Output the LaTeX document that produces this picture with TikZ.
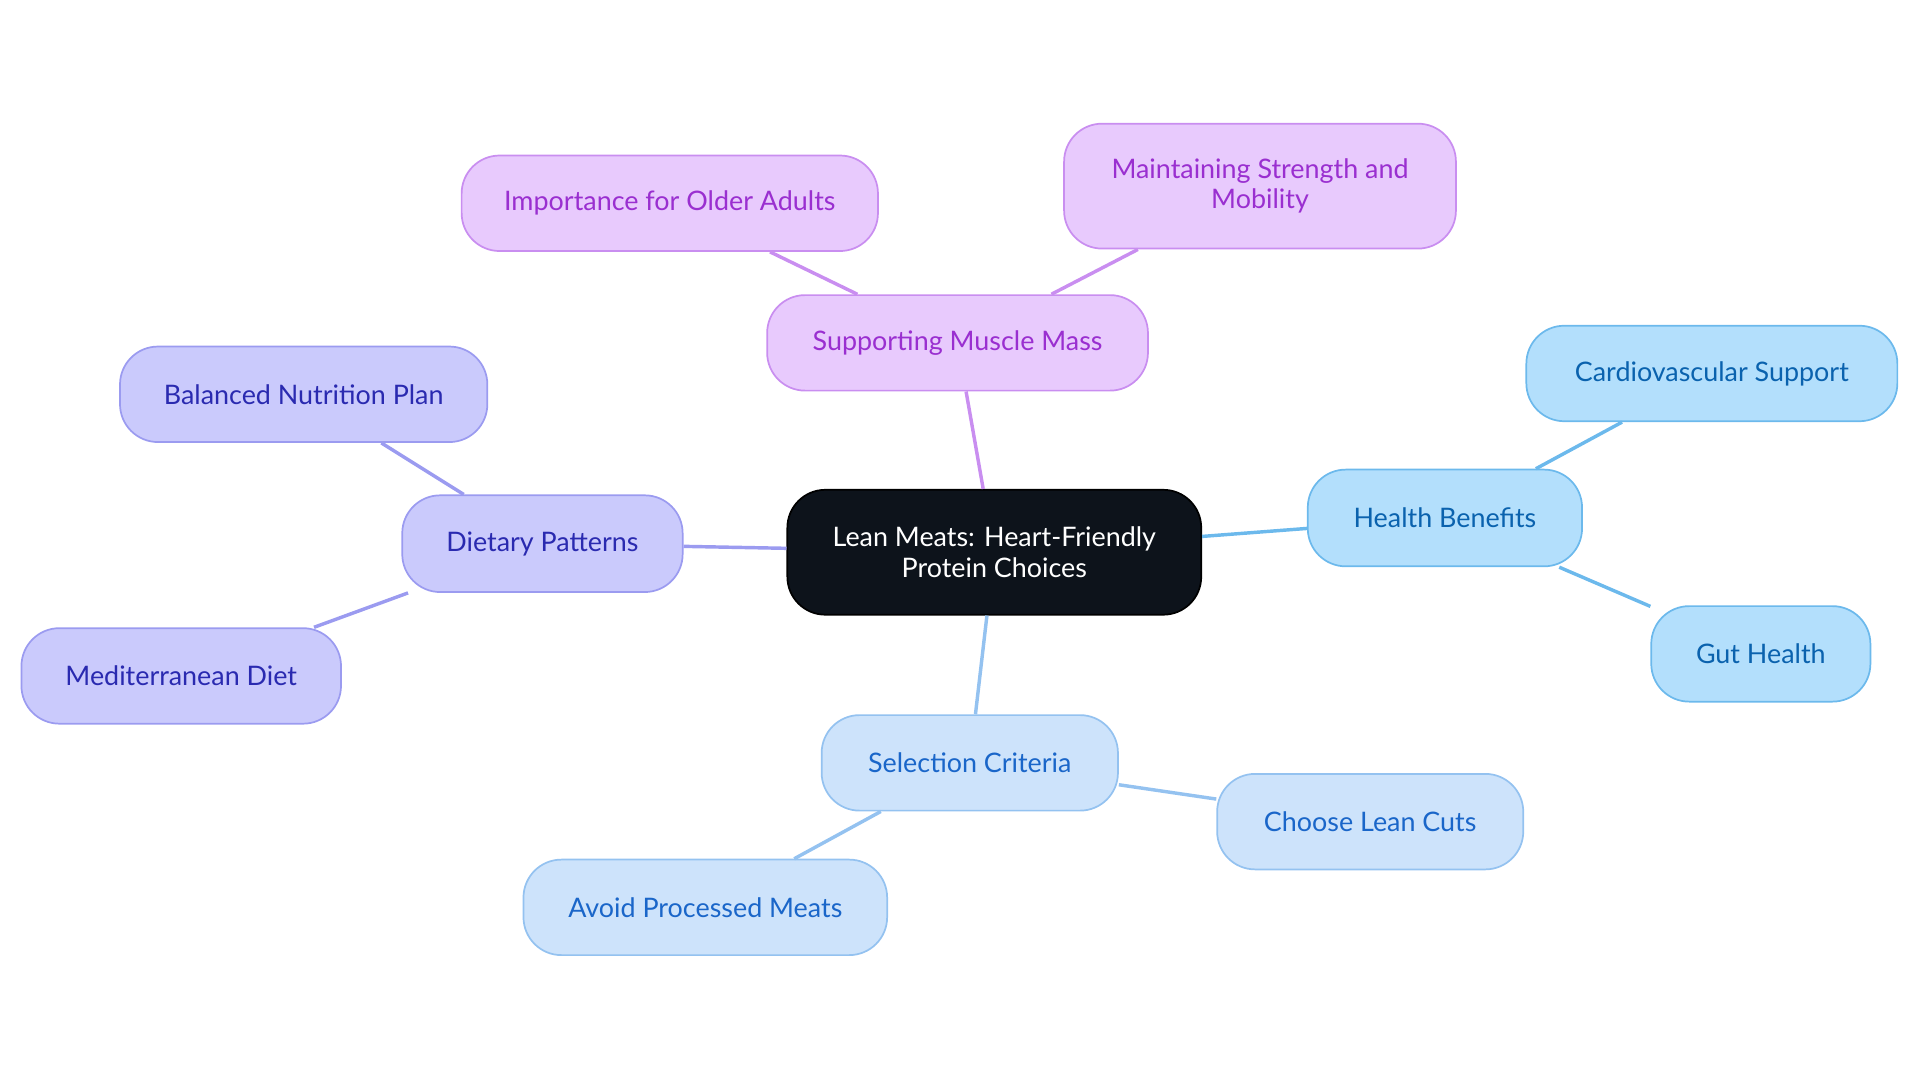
\documentclass[tikz,border=0pt]{standalone}
\usepackage{fontspec}
\setmainfont{Lato}
\begin{document}
\begin{tikzpicture}[x=0.02cm,y=-0.02cm,
 box/.style={draw,rounded corners=0.62cm,line width=0.8pt,align=center,font=\fontsize{12.5}{14}\selectfont,inner sep=0pt},
 hb/.style={box,fill=hbF,draw=hbD,text=hbT},
 sc/.style={box,fill=scF,draw=scD,text=scT},
 dp/.style={box,fill=dpF,draw=dpD,text=dpT},
 sm/.style={box,fill=smF,draw=smD,text=smT},
 ln/.style={line width=1.6pt}]
\definecolor{hbF}{HTML}{B3DFFC}\definecolor{hbD}{HTML}{6CB9EC}\definecolor{hbT}{HTML}{0A62AE}
\definecolor{scF}{HTML}{CDE3FB}\definecolor{scD}{HTML}{94C2F0}\definecolor{scT}{HTML}{1A66C9}
\definecolor{dpF}{HTML}{CACAFC}\definecolor{dpD}{HTML}{9B9BF0}\definecolor{dpT}{HTML}{2A2AB0}
\definecolor{smF}{HTML}{E8CAFD}\definecolor{smD}{HTML}{C98EF0}\definecolor{smT}{HTML}{9A2FD0}
\definecolor{cF}{HTML}{0D131B}
\useasboundingbox (0,0) rectangle (1568,884.5);
\def\bx#1#2#3#4#5#6{\node[#1,minimum width=#4*0.02cm,minimum height=#5*0.02cm] (#2) at #3 {#6};}
\bx{box,fill=cF,draw=black,text=white}{c}{(812,451)}{338}{102}{Lean Meats: Heart-Friendly\\Protein Choices}
\bx{hb}{hb}{(1180,423)}{224}{79}{Health Benefits}
\bx{hb}{cs}{(1398,305)}{303}{78}{Cardiovascular Support}
\bx{hb}{gh}{(1438,534)}{179}{78}{Gut Health}
\bx{sc}{sc}{(792,623)}{242}{78}{Selection Criteria}
\bx{sc}{cl}{(1119,671)}{250}{78}{Choose Lean Cuts}
\bx{sc}{ap}{(576,741)}{297}{78}{Avoid Processed Meats}
\bx{dp}{dp}{(443,444)}{229}{79}{Dietary Patterns}
\bx{dp}{bn}{(248,322)}{300}{78}{Balanced Nutrition Plan}
\bx{dp}{md}{(148,552)}{261}{78}{Mediterranean Diet}
\bx{sm}{sm}{(782,280)}{311}{78}{Supporting Muscle Mass}
\bx{sm}{io}{(547,166)}{340}{78}{Importance for Older Adults}
\bx{sm}{ms}{(1029,152)}{320}{102}{Maintaining Strength and\\Mobility}
\begin{scope}[on background layer/.style={}]
\end{scope}
\draw[ln,hbD] (c) -- (hb); \draw[ln,hbD] (hb) -- (cs); \draw[ln,hbD] (hb) -- (gh);
\draw[ln,scD] (c) -- (sc); \draw[ln,scD] (sc) -- (cl); \draw[ln,scD] (sc) -- (ap);
\draw[ln,dpD] (c) -- (dp); \draw[ln,dpD] (dp) -- (bn); \draw[ln,dpD] (dp) -- (md);
\draw[ln,smD] (c) -- (sm); \draw[ln,smD] (sm) -- (io); \draw[ln,smD] (sm) -- (ms);
\end{tikzpicture}
\end{document}
